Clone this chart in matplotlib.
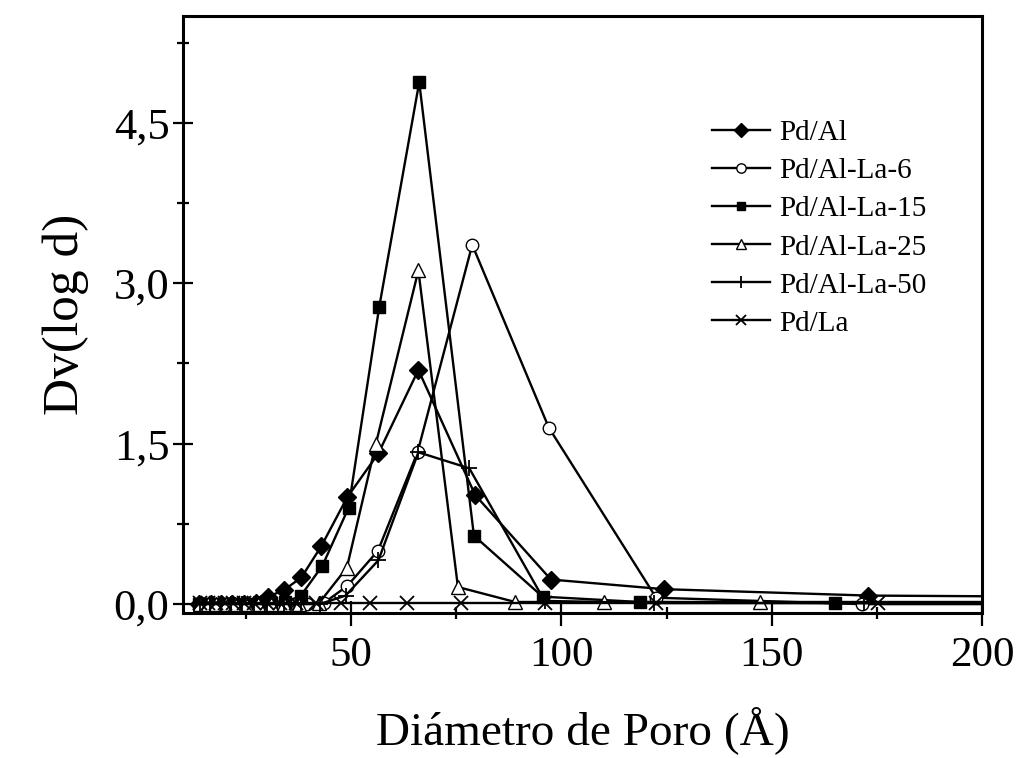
import matplotlib
matplotlib.use('Agg')
import matplotlib.pyplot as plt
from matplotlib.ticker import MultipleLocator

plt.rcParams['font.family'] = ['Liberation Serif', 'DejaVu Serif']

# pore size distribution
pdal_x = [13.8, 16.6, 19.0, 21.7, 24.5, 27.3, 30.3, 34.0, 38.2, 42.9, 49.1, 56.5, 66.0, 79.5, 97.5, 124.3, 172.9, 260]
pdal_y = [0, 0, 0, 0, 0, 0.01, 0.07, 0.13, 0.25, 0.54, 1.00, 1.41, 2.19, 1.02, 0.23, 0.14, 0.08, 0.06]

la6_x = [14.5, 17.0, 19.5, 22.0, 24.8, 27.8, 31.0, 35.0, 39.5, 43.5, 49.1, 56.4, 65.8, 78.8, 97.0, 122.5, 171.4, 260]
la6_y = [0, 0, 0, 0, 0, 0, 0, 0, 0, 0.01, 0.17, 0.50, 1.42, 3.36, 1.65, 0.06, 0.0, 0.0]

la15_x = [13.8, 15.5, 17.2, 19.0, 21.0, 23.0, 25.3, 28.0, 31.0, 34.3, 38.0, 43.2, 49.4, 56.7, 66.2, 79.2, 95.5, 118.6, 165.0, 260]
la15_y = [0, 0, 0, 0, 0, 0, 0, 0, 0.01, 0.02, 0.075, 0.36, 0.90, 2.78, 4.88, 0.64, 0.07, 0.02, 0.01, 0.01]

la25_x = [14.0, 16.0, 18.0, 20.2, 22.5, 25.0, 28.0, 31.0, 34.0, 37.6, 42.4, 49.0, 55.9, 66.0, 75.4, 89.0, 110.2, 147.3, 260]
la25_y = [0, 0, 0, 0, 0, 0, 0, 0, 0, 0, 0.01, 0.34, 1.50, 3.12, 0.16, 0.02, 0.02, 0.02, 0.02]

la50_x = [14.0, 16.5, 19.0, 21.5, 24.0, 27.0, 30.0, 34.0, 38.0, 42.5, 48.7, 56.5, 66.0, 78.1, 96.0, 122.0, 172.0, 260]
la50_y = [0, 0, 0, 0, 0, 0, 0, 0, 0, 0.0, 0.08, 0.41, 1.42, 1.27, 0.03, 0.01, 0.01, 0.01]

pdla_x = [14.0, 16.0, 18.0, 20.0, 22.0, 24.5, 27.0, 30.0, 33.0, 37.0, 41.6, 47.5, 54.4, 63.3, 76.2, 96.0, 122.5, 175.3, 260]
pdla_y = [0.01] * 19

series = [
    ('Pd/Al', pdal_x, pdal_y, dict(marker='D', ms=9.5, mfc='black')),
    ('Pd/Al-La-6', la6_x, la6_y, dict(marker='o', ms=9, mfc='white')),
    ('Pd/Al-La-15', la15_x, la15_y, dict(marker='s', ms=8.5, mfc='black')),
    ('Pd/Al-La-25', la25_x, la25_y, dict(marker='^', ms=10, mfc='white')),
    ('Pd/Al-La-50', la50_x, la50_y, dict(marker='+', ms=12, mew=1.3)),
    ('Pd/La', pdla_x, pdla_y, dict(marker='x', ms=10, mew=1.3)),
]

fig = plt.figure(figsize=(10.21, 7.58), dpi=100)
ax = fig.add_axes([0.179, 0.191, 0.783, 0.788])

for name, x, y, style in series:
    ax.plot(x, y, color='black', lw=1.7, mec='black', label=name, **style)

ax.set_xlim(10, 200)
ax.set_ylim(-0.085, 5.5)

ax.set_xticks([50, 100, 150, 200])
ax.xaxis.set_minor_locator(MultipleLocator(25))
ax.set_yticks([0, 1.5, 3.0, 4.5])
ax.set_yticklabels(['0,0', '1,5', '3,0', '4,5'])
ax.yaxis.set_minor_locator(MultipleLocator(0.75))

ax.tick_params(axis='x', which='major', direction='inout', length=18, width=1.6, labelsize=31, pad=8)
ax.tick_params(axis='x', which='minor', direction='inout', length=9, width=1.6)
ax.tick_params(axis='y', which='major', direction='inout', length=15, width=1.6, labelsize=32, pad=2)
ax.tick_params(axis='y', which='minor', direction='inout', length=8, width=1.6)

for sp in ax.spines.values():
    sp.set_linewidth(2.2)

ax.set_xlabel('Diámetro de Poro (Å)', fontsize=34, labelpad=22)
ax.set_ylabel('Dv(log d)', fontsize=37, labelpad=18)

ax.legend(loc='upper left', bbox_to_anchor=(0.662, 0.826), frameon=False,
          fontsize=21, markerscale=0.75, handlelength=2.0, handletextpad=0.3,
          labelspacing=0.4, borderpad=0, borderaxespad=0)

fig.savefig('out.png', dpi=100)
